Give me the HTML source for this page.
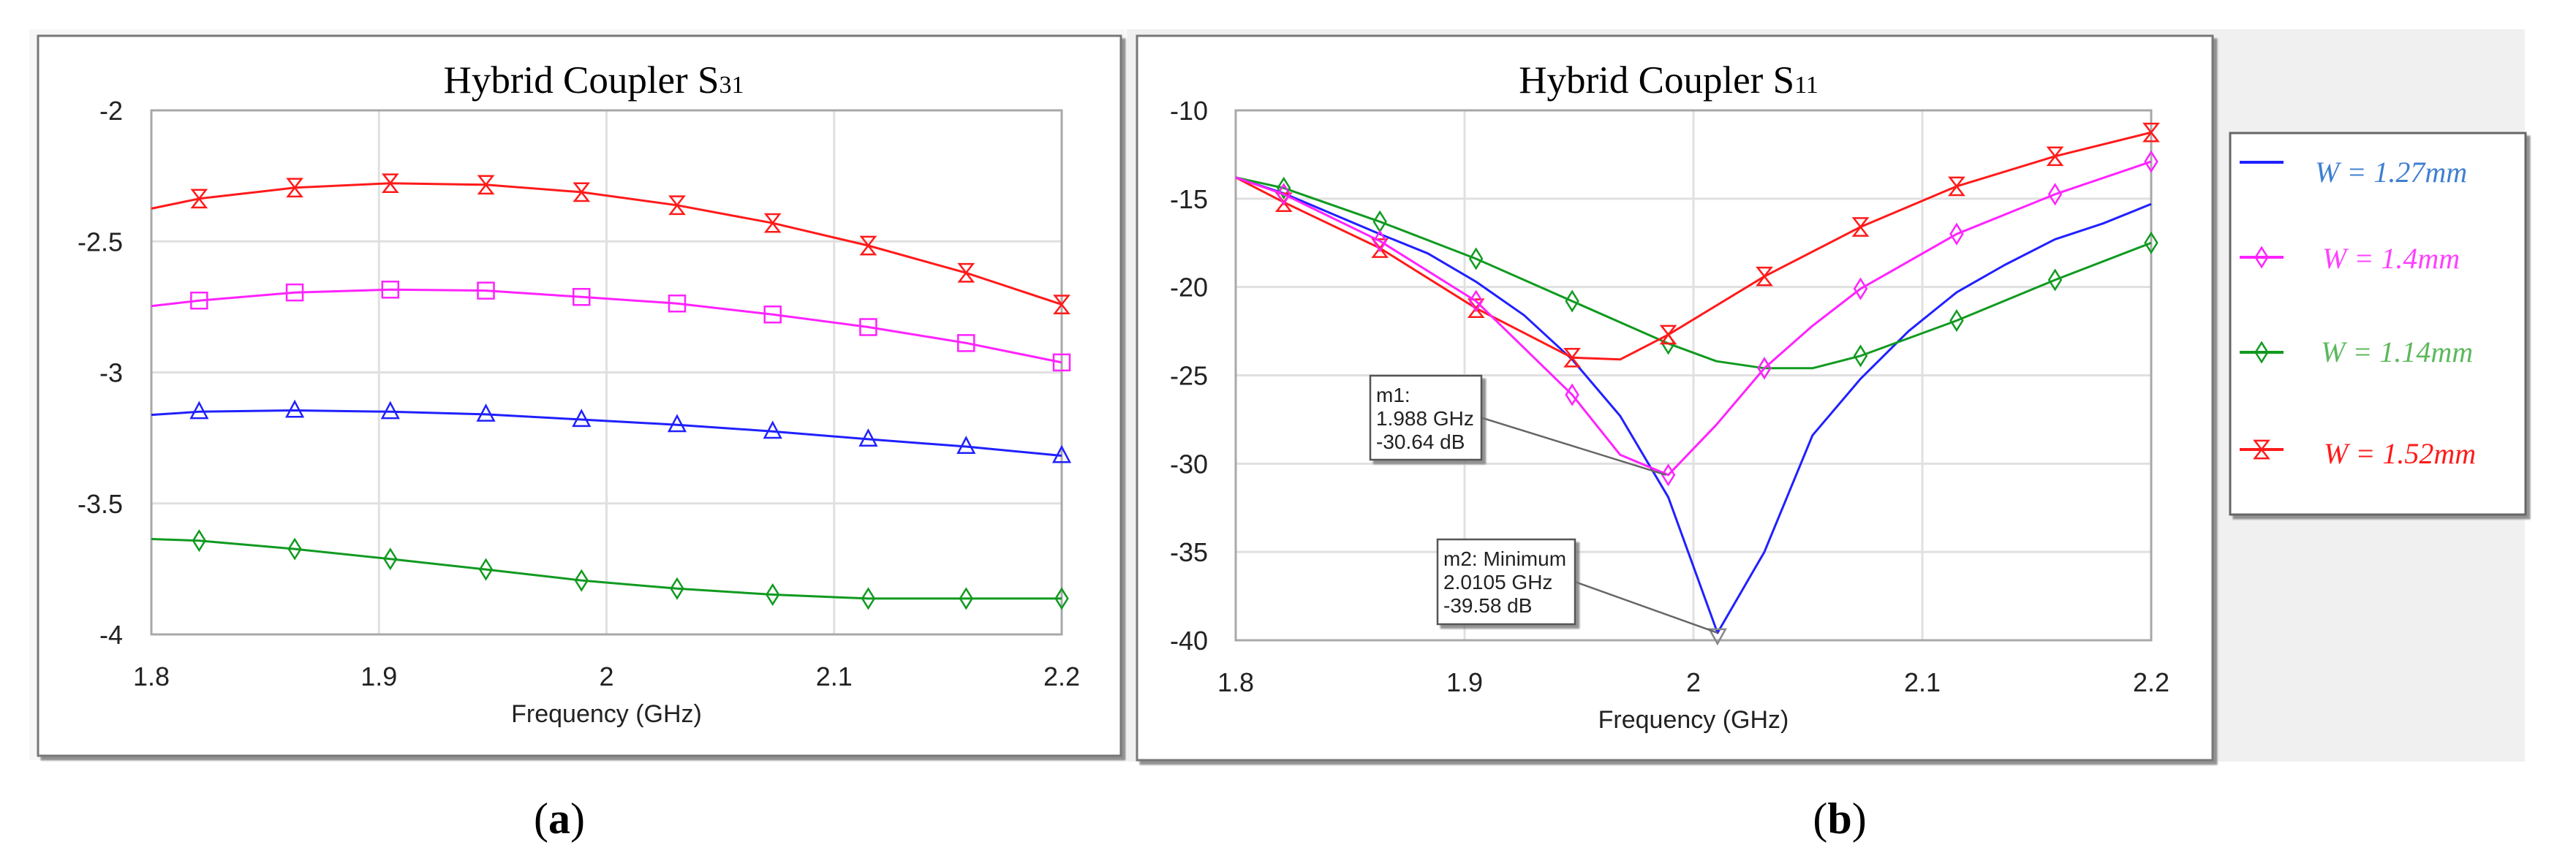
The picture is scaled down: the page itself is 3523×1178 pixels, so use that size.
<!DOCTYPE html>
<html><head><meta charset="utf-8"><style>
html,body{margin:0;padding:0;background:#fff;}
svg{display:block;}
</style></head><body>
<svg id="chart" width="3523" height="1178" viewBox="0 0 3523 1178" xmlns="http://www.w3.org/2000/svg">
  <defs>
    <filter id="sh" x="-5%" y="-5%" width="115%" height="115%"><feDropShadow dx="5" dy="5" stdDeviation="1" flood-color="#777" flood-opacity="0.8"/></filter>
  </defs>
  <rect x="40" y="40" width="1500" height="1000" fill="#f7f7f7"/>
  <rect x="52" y="49" width="1481" height="985" fill="#fff" stroke="#777" stroke-width="3" filter="url(#sh)"/>
  <rect x="1541" y="40" width="1912" height="1002" fill="#f0f0f0"/>
  <rect x="1555" y="49" width="1471" height="991" fill="#fff" stroke="#777" stroke-width="3" filter="url(#sh)"/>
  <g id="pa"></g>
  <g id="pb"></g>
  <text x="765" y="1140" text-anchor="middle" font-family="Liberation Serif, serif" font-size="60" fill="#000">(<tspan font-weight="bold">a</tspan>)</text>
  <text x="2516" y="1140" text-anchor="middle" font-family="Liberation Serif, serif" font-size="60" fill="#000">(<tspan font-weight="bold">b</tspan>)</text>
</svg>
<script>
// ---- data ----
const markerFreqs = [1.821,1.863,1.905,1.947,1.989,2.031,2.073,2.115,2.158,2.2];
const xTicks = [1.8,1.9,2.0,2.1,2.2];
const xTickLabels = ['1.8','1.9','2','2.1','2.2'];
// panel a (S31)
const aYTicks = [-2,-2.5,-3,-3.5,-4];
const aYTickLabels = ['-2','-2.5','-3','-3.5','-4'];
const aFreq = [1.8,1.821,1.863,1.905,1.947,1.989,2.031,2.073,2.115,2.158,2.2];
const aRed = [-2.375,-2.337,-2.295,-2.278,-2.284,-2.312,-2.362,-2.43,-2.516,-2.62,-2.741];
const aMagenta = [-2.747,-2.726,-2.695,-2.684,-2.688,-2.712,-2.737,-2.779,-2.827,-2.888,-2.962];
const aBlue = [-3.162,-3.150,-3.145,-3.150,-3.160,-3.180,-3.200,-3.225,-3.255,-3.283,-3.318];
const aGreen = [-3.636,-3.642,-3.674,-3.712,-3.752,-3.794,-3.825,-3.848,-3.863,-3.863,-3.863];
// panel b (S11)
const bYTicks = [-10,-15,-20,-25,-30,-35,-40];
const bYTickLabels = ['-10','-15','-20','-25','-30','-35','-40'];
const bBlueFreq = [1.8,1.821,1.863,1.884,1.905,1.926,1.947,1.968,1.989,2.0105,2.031,2.052,2.073,2.094,2.115,2.136,2.158,2.179,2.2];
const bBlue = [-13.8,-14.7,-17.0,-18.1,-19.7,-21.6,-24.1,-27.3,-31.9,-39.58,-35.0,-28.4,-25.2,-22.5,-20.3,-18.75,-17.3,-16.4,-15.3];
const bMagFreq = [1.8,1.821,1.863,1.905,1.947,1.968,1.989,2.010,2.031,2.052,2.073,2.115,2.158,2.2];
const bMagenta = [-13.8,-14.75,-17.4,-20.8,-26.1,-29.5,-30.64,-27.8,-24.6,-22.2,-20.1,-17.0,-14.75,-12.9];
const bGreenFreq = [1.8,1.821,1.863,1.905,1.947,1.989,2.010,2.031,2.052,2.073,2.115,2.158,2.2];
const bGreen = [-13.8,-14.4,-16.3,-18.4,-20.8,-23.2,-24.2,-24.6,-24.6,-23.9,-21.9,-19.6,-17.5];
const bRedFreq = [1.8,1.821,1.863,1.905,1.947,1.968,1.989,2.031,2.073,2.115,2.158,2.2];
const bRed = [-13.8,-15.2,-17.8,-21.2,-24.0,-24.1,-22.7,-19.4,-16.6,-14.3,-12.6,-11.25];
const legendLabels = ['W = 1.27mm','W = 1.4mm','W = 1.14mm','W = 1.52mm'];

const NS='http://www.w3.org/2000/svg';
const TICKFONT='"Liberation Sans", sans-serif';
function mk(tag, attrs, parent){const e=document.createElementNS(NS,tag);for(const k in attrs)e.setAttribute(k,attrs[k]);parent.appendChild(e);return e;}

function axes(g, L, R, T, B, ymax, ymin, yTicks, yLabels, titleX, sub, labelRight){
  const sx=f=>L+(f-1.8)/0.4*(R-L);
  const sy=v=>T+(ymax-v)/(ymax-ymin)*(B-T);
  yTicks.forEach((v,i)=>{
    const l=mk('line',{x1:L,x2:R,y1:sy(v),y2:sy(v),stroke:'#e0e0e0','stroke-width':3},g);
    
    
    const t=mk('text',{x:labelRight,y:sy(v)+13,'text-anchor':'end','font-family':TICKFONT,'font-size':36,fill:'#222'},g);
    t.textContent=yLabels[i];
    
    
  });
  xTicks.forEach((f,i)=>{
    const l=mk('line',{x1:sx(f),x2:sx(f),y1:T,y2:B,stroke:'#e0e0e0','stroke-width':3},g);
    
    
    const t=mk('text',{x:sx(f),y:B+70,'text-anchor':'middle','font-family':TICKFONT,'font-size':36,fill:'#222'},g);
    t.textContent=xTickLabels[i];
    
    
  });
  const r=mk('rect',{x:L,y:T,width:R-L,height:B-T,fill:'none',stroke:'#a8a8a8','stroke-width':3},g);
  
  
  const xt=mk('text',{x:(L+R)/2,y:B+120,'text-anchor':'middle','font-family':'Liberation Sans, sans-serif','font-size':34,fill:'#222'},g);
  xt.textContent='Frequency (GHz)';
  
  
  const tt=mk('text',{x:titleX,y:T-24,'text-anchor':'middle','font-family':'Liberation Serif, serif','font-size':53,fill:'#000'},g);
  tt.innerHTML='Hybrid Coupler S<tspan font-size="34">'+sub+'</tspan>';
  
  
  return {sx,sy};
}

function marker(g, type, x, y, color){
  const s=11; let d;
  if(type==='tri') d=`M${x-s} ${y+s*0.8}L${x+s} ${y+s*0.8}L${x} ${y-s*1.1}Z`;
  else if(type==='sq') d=`M${x-s} ${y-s}H${x+s}V${y+s}H${x-s}Z`;
  else if(type==='dia') d=`M${x} ${y-s*1.2}L${x+s*0.75} ${y}L${x} ${y+s*1.2}L${x-s*0.75} ${y}Z`;
  else if(type==='hour') d=`M${x-s*0.85} ${y-s*1.1}H${x+s*0.85}L${x-s*0.85} ${y+s*1.1}H${x+s*0.85}Z`;
  else if(type==='down') d=`M${x-s} ${y-s}H${x+s}L${x} ${y+s*0.8}Z`;
  const p=mk('path',{d:d,fill:'none',stroke:color,'stroke-width':2.5},g);
  
  
}

function series(g, ax, fr, vals, color, type, name){
  const pts=fr.map((f,i)=>ax.sx(f).toFixed(1)+','+ax.sy(vals[i]).toFixed(1)).join(' ');
  const pl=mk('polyline',{points:pts,fill:'none',stroke:color,'stroke-width':3,'stroke-linejoin':'round'},g);
  
  
  if(type){
    fr.forEach((f,i)=>{
      if(markerFreqs.some(m=>Math.abs(m-f)<0.002)) marker(g,type,ax.sx(f),ax.sy(vals[i]),color);
    });
  }
}

// Panel a
const ga=document.getElementById('pa');
const axA=axes(ga,207,1452,151,868,-2,-4,aYTicks,aYTickLabels,812,'31',168);
series(ga,axA,aFreq,aRed,'#ff1a1a','hour','series-w152');
series(ga,axA,aFreq,aMagenta,'#ff22ff','sq','series-w14');
series(ga,axA,aFreq,aBlue,'#2020ff','tri','series-w127');
series(ga,axA,aFreq,aGreen,'#109a20','dia','series-w114');

// Panel b
const gb=document.getElementById('pb');
const axB=axes(gb,1690,2942,151,876,-10,-40,bYTicks,bYTickLabels,2282,'11',1652);
series(gb,axB,bBlueFreq,bBlue,'#2020ff',null,'series-w127');
series(gb,axB,bGreenFreq,bGreen,'#109a20','dia','series-w114');
series(gb,axB,bRedFreq,bRed,'#ff1a1a','hour','series-w152');
series(gb,axB,bMagFreq,bMagenta,'#ff22ff','dia','series-w14');
marker(gb,'down',axB.sx(2.0105),axB.sy(-39.58)+6,'#888');

// marker annotation boxes
function annot(x,y,w,h,lines,tx,ty,name){
  const l=mk('line',{x1:x+w,y1:y+h/2,x2:tx,y2:ty,stroke:'#666','stroke-width':2.5},gb);
  
  
  const r=mk('rect',{x:x,y:y,width:w,height:h,fill:'#fff',stroke:'#555','stroke-width':2.5,filter:'url(#sh)'},gb);
  
  
  lines.forEach((s,i)=>{
    const t=mk('text',{x:x+8,y:y+36+i*32,'font-family':TICKFONT,'font-size':28,fill:'#222'},gb);
    t.textContent=s;
    
    
  });
}
annot(1874,514,152,115,['m1:','1.988 GHz','-30.64 dB'],axB.sx(1.988),axB.sy(-30.64),'marker-m1');
annot(1966,738,188,116,['m2: Minimum','2.0105 GHz','-39.58 dB'],axB.sx(2.0105),axB.sy(-39.58),'marker-m2');

// Legend
const lg=mk('g',{},gb);


const lr=mk('rect',{x:3050,y:182,width:404,height:522,fill:'#fff',stroke:'#666','stroke-width':3,filter:'url(#sh)'},lg);


const legColors=['#2020ff','#ff22ff','#109a20','#ff1a1a'];
const legText=['#3f7fd0','#ff40ff','#5cb85c','#ff1a1a'];
const legMk=[null,'dia','dia','hour'];
const legY=[222,352,482,615];
const legBase=[249,367,495,634];
const legX=[3166,3176,3174,3178];
legendLabels.forEach((s,i)=>{
  const ln=mk('line',{x1:3063,x2:3123,y1:legY[i],y2:legY[i],stroke:legColors[i],'stroke-width':4},lg);
  
  
  if(legMk[i]) marker(lg,legMk[i],3093,legY[i],legColors[i]);
  const t=mk('text',{x:legX[i],y:legBase[i],'font-family':'Liberation Serif, serif','font-style':'italic','font-size':40,fill:legText[i]},lg);
  t.textContent=s;
  
  
});
</script>
</body></html>
